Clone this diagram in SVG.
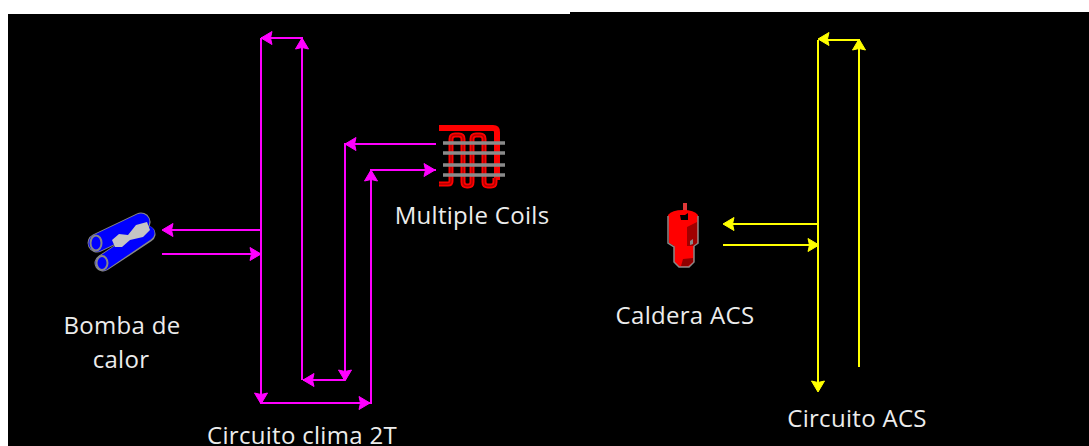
<svg xmlns="http://www.w3.org/2000/svg" width="1089" height="446" viewBox="0 0 1089 446">
<style>
.m{fill:none;stroke:#f0f;stroke-width:2}
.y{fill:none;stroke:#ff0;stroke-width:2}
.hm{fill:#f0f;stroke:#f0f}
.hy{fill:#ff0;stroke:#ff0}
text{font-family:"Open Sans","Noto Sans",sans-serif;font-size:24px;letter-spacing:.3px;fill:#ececec;text-anchor:middle}
.tube{fill:none;stroke:#f00;stroke-width:5}
.core{fill:none;stroke:#b00000;stroke-width:1.500}
</style>
<defs>
<path id="ah" d="M0 0L-11 -6.500L-9.500 0L-11 6.500Z"/>
</defs>
<rect width="1089" height="446" fill="#fff"/>
<rect x="8" y="14" width="1081" height="432" fill="#000"/>
<rect x="570" y="12" width="519" height="3" fill="#000"/>
<g id="connectors">
<path class="m" d="M261 230H165M162 254H261M261 38V403H371V170H436M302 380V38H261M345 380H303M345 380V144H436"/>
<g class="hm">
<use href="#ah" transform="translate(162,230) rotate(180)"/>
<use href="#ah" transform="translate(261,254)"/>
<use href="#ah" transform="translate(261,38) rotate(180)"/>
<use href="#ah" transform="translate(302,38) rotate(-90)"/>
<use href="#ah" transform="translate(261,404) rotate(90)"/>
<use href="#ah" transform="translate(370,403)"/>
<use href="#ah" transform="translate(371,170) rotate(-90)"/>
<use href="#ah" transform="translate(435,170)"/>
<use href="#ah" transform="translate(345,144) rotate(180)"/>
<use href="#ah" transform="translate(303,380) rotate(180)"/>
<use href="#ah" transform="translate(345,381) rotate(90)"/>
</g>
<path class="y" d="M818 224H726M723 245H818M818 40V388M859 367V40H820"/>
<g class="hy">
<use href="#ah" transform="translate(723,224) rotate(180)"/>
<use href="#ah" transform="translate(819,245)"/>
<use href="#ah" transform="translate(818,39) rotate(180)"/>
<use href="#ah" transform="translate(859,39) rotate(-90)"/>
<use href="#ah" transform="translate(818,392) rotate(90)"/>
</g>
</g>
<g id="bomba">
<path d="M103 263L147 234" stroke="#888" stroke-width="17" stroke-linecap="round" fill="none"/>
<path d="M103 263L147 233" stroke="#00f" stroke-width="15" stroke-linecap="round" fill="none"/>
<path d="M97 243L141 222" stroke="#888" stroke-width="19" stroke-linecap="round" fill="none"/>
<path d="M97 243L141 222" stroke="#00f" stroke-width="17" stroke-linecap="round" fill="none"/>
<path d="M112 240L119 234L128 235L136 225L147 222L150 230L143 237L130 240L122 247L115 247Z" fill="#c4c4c4"/>
<ellipse cx="96" cy="243" rx="5.500" ry="7.500" fill="#00f" stroke="#888" stroke-width="2"/>
<ellipse cx="102" cy="263" rx="5.500" ry="7" fill="#00f" stroke="#888" stroke-width="2"/>
<text x="122" y="334">Bomba de</text>
<text x="121" y="368">calor</text>
</g>
<g id="coils">
<path d="M439 128H493Q497 128 497 132V180" fill="none" stroke="#f00" stroke-width="6"/>
<path class="tube" d="M439 184H448Q451 184 451 181V139Q451 135 455 135H459Q463 135 463 139V182Q463 186 467 186H468Q472 186 472 182V139Q472 135 476 135H480Q484 135 484 139V182Q484 186 488 186H491Q495 186 495 182V178"/>
<path class="core" d="M439 184H448Q451 184 451 181V139Q451 135 455 135H459Q463 135 463 139V182Q463 186 467 186H468Q472 186 472 182V139Q472 135 476 135H480Q484 135 484 139V182Q484 186 488 186H491Q495 186 495 182V178"/>
<path d="M443 143H505M443 153H505M443 165H505M443 175H505" stroke="#8a8a8a" stroke-width="3.500" fill="none"/>
<text x="472" y="224">Multiple Coils</text>
</g>
<g id="caldera">
<rect x="683" y="203" width="4" height="11" fill="#e03838"/>
<path d="M668 215Q672 210 683 210Q694 210 698 215V243L694 246V262L689 267H679L674 262V246L669 243Z" fill="#f00"/>
<path d="M668 216V243L674 247V262L679 267H689L694 262V246L698 243V216" fill="none" stroke="#888" stroke-width="1.500"/>
<path d="M687 227L697 222V243L693 246H687Z" fill="#a00000"/>
<path d="M683 259L693 258V262L688 266H681Z" fill="#900000"/>
<path d="M680 215H685L688 213V220H681Z" fill="#000"/>
<path d="M690 241L693 239V244L690 245Z" fill="#888"/>
<text x="685" y="324">Caldera ACS</text>
</g>
<g id="circuitos">
<text x="302" y="444">Circuito clima 2T</text>
<text x="857" y="427">Circuito ACS</text>
</g>
</svg>
